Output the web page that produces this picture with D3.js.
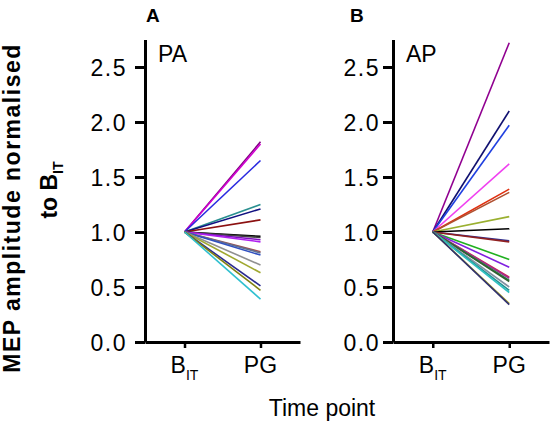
<!DOCTYPE html>
<html><head><meta charset="utf-8">
<script src="https://cdn.jsdelivr.net/npm/d3@7"></script>
<style>body{margin:0;background:#fff} text{font-family:"Liberation Sans",Arial,sans-serif;fill:#000}</style>
</head><body><svg id="c" width="551" height="424"></svg>
<script>
const timePoints = ["BIT", "PG"];
const yTicks = [0, 0.5, 1, 1.5, 2, 2.5];
const paStart = 1.0;
const paPG = [1.82, 1.80, 1.65, 1.25, 1.21, 1.11, 0.96, 0.95, 0.93, 0.91, 0.82, 0.81, 0.79, 0.70, 0.63, 0.51, 0.47, 0.39];
const paColors = ["#800080", "#d000d0", "#2a2ae0", "#2a9090", "#101080", "#8b1010", "#000000", "#404040", "#8010c0", "#b020f0", "#a05050", "#607090", "#3050c0", "#909090", "#a0a830", "#2a2a90", "#808010", "#30c0d0"];
const apStart = 1.0;
const apPG = [2.72, 2.10, 1.97, 1.62, 1.39, 1.36, 1.14, 1.03, 0.92, 0.91, 0.75, 0.68, 0.59, 0.58, 0.56, 0.55, 0.50, 0.47, 0.45, 0.35, 0.34];
const apColors = ["#900090", "#101070", "#2040e0", "#f040f0", "#e03010", "#b05030", "#9ab030", "#000000", "#303090", "#902020", "#20b020", "#8020e0", "#d02050", "#a03090", "#208040", "#306030", "#8090a0", "#209090", "#30c0c0", "#a0a020", "#303070"];

const svg = d3.select("#c");
const y = d3.scaleLinear().domain([0, 2.75]).range([342, 39.5]);

function panel(x0, x1, label, letter, letterX, starts, ends, colors, labelPad) {
  const x = d3.scalePoint().domain(timePoints).range([x0, x1]).padding(0.52);
  const g = svg.append("g");
  const line = d3.line().x(d => x(d.t)).y(d => y(d.v));
  ends.forEach((v, i) => {
    g.append("path")
      .datum([{t: timePoints[0], v: starts}, {t: timePoints[1], v: v}])
      .attr("d", line).attr("fill", "none")
      .attr("stroke", colors[i]).attr("stroke-width", 1.6);
  });
  const ya = g.append("g").attr("transform", `translate(${x0},0)`)
    .call(d3.axisLeft(y).tickValues(yTicks).tickSize(10).tickSizeOuter(0).tickPadding(labelPad).tickFormat(d3.format(".1f")));
  ya.select(".domain").attr("stroke-width", 3).attr("stroke", "#000");
  ya.selectAll(".tick line").attr("stroke-width", 3).attr("stroke", "#000");
  ya.selectAll(".tick text").attr("font-size", 23).attr("letter-spacing", "1.5px").attr("dy", "0.35em").attr("font-family", "Liberation Sans, Arial, sans-serif");
  const xa = g.append("g").attr("transform", `translate(0,${y(0)})`)
    .call(d3.axisBottom(x).tickSize(6).tickSizeOuter(0).tickFormat(""));
  xa.select(".domain").attr("stroke-width", 3).attr("stroke", "#000");
  xa.selectAll(".tick line").attr("stroke-width", 2.5).attr("stroke", "#000");
  timePoints.forEach(t => {
    const tx = g.append("text").attr("x", x(t)).attr("y", 373).attr("text-anchor", "middle").attr("font-size", 23);
    if (t === "BIT") {
      tx.append("tspan").text("B");
      tx.append("tspan").attr("font-size", 14).attr("dy", 7).text("IT");
    } else {
      tx.text(t);
    }
  });
  g.append("text").attr("x", x0 + 13).attr("y", 62).attr("font-size", 23).text(label);
  g.append("text").attr("x", letterX).attr("y", 22).attr("font-size", 19).attr("font-weight", "bold").text(letter);
}

panel(145, 300, "PA", "A", 146, paStart, paPG, paColors, 8);
panel(393, 549, "AP", "B", 350, apStart, apPG, apColors, 3);

svg.append("text").attr("transform", "translate(20,208) rotate(-90)")
  .attr("text-anchor", "middle").attr("font-size", 23).attr("font-weight", "bold").attr("letter-spacing", "1.5px")
  .text("MEP amplitude normalised");
const t2 = svg.append("text").attr("transform", "translate(57,190) rotate(-90)")
  .attr("text-anchor", "middle").attr("font-size", 23).attr("font-weight", "bold");
t2.append("tspan").text("to B");
t2.append("tspan").attr("font-size", 14).attr("dy", 6).text("IT");

svg.append("text").attr("x", 322).attr("y", 416).attr("text-anchor", "middle").attr("font-size", 23).text("Time point");
</script></body></html>
